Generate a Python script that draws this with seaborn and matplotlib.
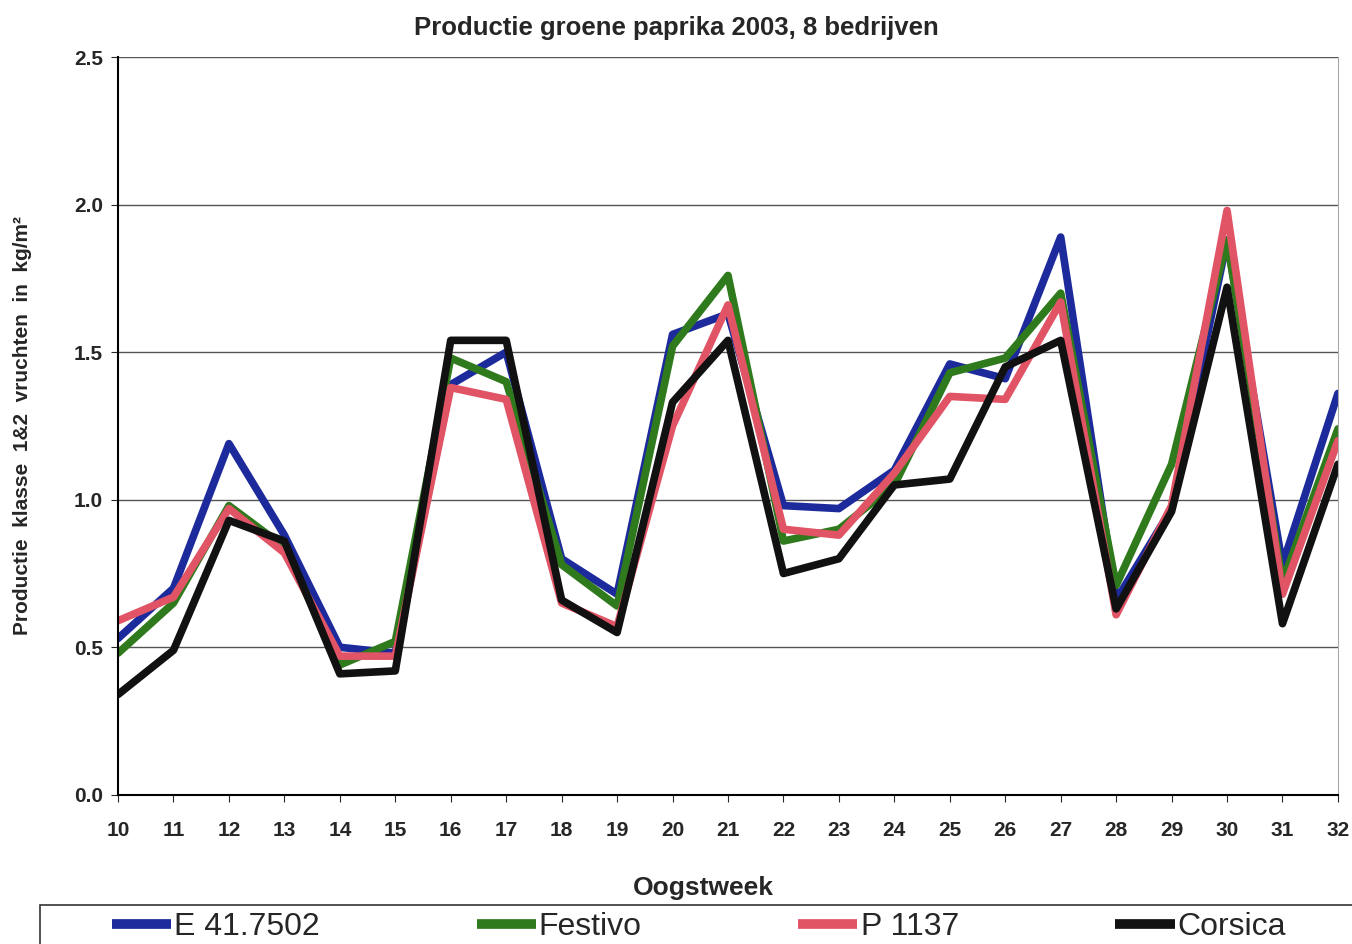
import numpy as np
import pandas as pd
import seaborn as sns
import matplotlib.pyplot as plt
from matplotlib.patches import Rectangle

# Data ======================================================================
weeks = list(range(10, 33))
e_41_7502 = [0.53, 0.70, 1.19, 0.88, 0.50, 0.48, 1.39, 1.50, 0.80, 0.68, 1.56, 1.63,
             0.98, 0.97, 1.10, 1.46, 1.41, 1.89, 0.66, 0.97, 1.88, 0.78, 1.36]
festivo = [0.48, 0.65, 0.98, 0.84, 0.44, 0.52, 1.48, 1.40, 0.78, 0.64, 1.52, 1.76,
           0.86, 0.90, 1.05, 1.43, 1.48, 1.70, 0.71, 1.12, 1.88, 0.72, 1.24]
p_1137 = [0.59, 0.67, 0.97, 0.82, 0.47, 0.47, 1.38, 1.34, 0.65, 0.57, 1.25, 1.66,
          0.90, 0.88, 1.09, 1.35, 1.34, 1.67, 0.61, 0.98, 1.98, 0.68, 1.20]
corsica = [0.34, 0.49, 0.93, 0.86, 0.41, 0.42, 1.54, 1.54, 0.66, 0.55, 1.33, 1.54,
           0.75, 0.80, 1.05, 1.07, 1.45, 1.54, 0.63, 0.96, 1.72, 0.58, 1.12]
rassen = ['E 41.7502', 'Festivo', 'P 1137', 'Corsica']
kleuren = ['#1c2a9c', '#2f7a1c', '#e05466', '#111111']

# Build long DF
df = pd.DataFrame({'week': weeks * 4,
                   'ras': np.repeat(rassen, len(weeks)),
                   'kg': e_41_7502 + festivo + p_1137 + corsica})

# Plot ======================================================================
sns.set_style('white')
plt.rcParams['font.family'] = ['Liberation Sans', 'DejaVu Sans']

fig = plt.figure(figsize=(13.52, 9.44), dpi=100)
ax = fig.add_axes([0.0873, 0.158, 0.9023, 0.7816])

sns.lineplot(data=df, x='week', y='kg', hue='ras', hue_order=rassen,
             palette=kleuren, linewidth=5.5, ax=ax, legend=False)

#axes
ax.set_xlim(10, 32)
ax.set_ylim(0, 2.5)
ax.set_xticks(weeks)
ax.set_yticks([0, 0.5, 1.0, 1.5, 2.0, 2.5])
ax.set_yticklabels(['0.0', '0.5', '1.0', '1.5', '2.0', '2.5'])
ax.tick_params(axis='both', labelsize=15, length=5, direction='out',
               bottom=True, left=True)
ax.tick_params(axis='x', pad=14)
ax.tick_params(axis='y', pad=6)
for lab in ax.get_xticklabels() + ax.get_yticklabels():
    lab.set_fontweight('bold')
ax.grid(axis='y', color='#555555', linewidth=1)
ax.set_axisbelow(True)
for s in ['left', 'bottom']:
    ax.spines[s].set_color('black')
    ax.spines[s].set_linewidth(1.5)
ax.spines['top'].set_visible(False)
ax.spines['right'].set_color('#aaaaaa')

#labels
ax.set_xlabel('')
fig.text(0.52, 0.059, 'Oogstweek', fontsize=19, fontweight='bold',
         ha='center', va='center')
fig.text(0.5, 0.970, 'Productie groene paprika 2003, 8 bedrijven', fontsize=18.5,
         fontweight='bold', ha='center', va='center')
ax.set_ylabel('Productie  klasse  1&2  vruchten  in  kg/m²', fontsize=15,
              fontweight='bold', labelpad=30)

#legend box (runs off the right/bottom edge like the original)
fig.patches.append(Rectangle((40 / 1352, -0.02), 1.0, 0.061, transform=fig.transFigure,
                             fill=False, edgecolor='#333333', linewidth=1.2))
handles = [plt.Line2D([], [], color=c, linewidth=7, solid_capstyle='butt') for c in kleuren]
leg = fig.legend(handles, rassen, loc='center left', ncol=4, fontsize=23,
                 bbox_to_anchor=(112 / 1352, 0.018), frameon=False,
                 handlelength=1.85, handletextpad=0.1, columnspacing=4.9,
                 borderaxespad=0, borderpad=0)

plt.savefig('out.png', dpi=100)
plt.close()
